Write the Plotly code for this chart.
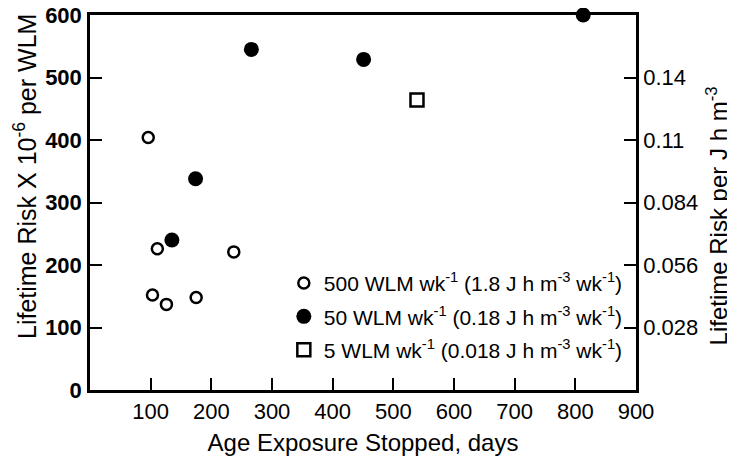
import plotly.graph_objects as go

# Data
open_x = [96, 103, 111, 126, 175, 237]
open_y = [404, 152, 226, 137, 148, 221]
filled_x = [135, 174, 266, 451, 813]
filled_y = [240, 338, 545, 529, 600]
square_x = [539]
square_y = [464]

x_tickvals = [100, 200, 300, 400, 500, 600, 700, 800, 900]
y_tickvals = [0, 100, 200, 300, 400, 500, 600]
right_tickvals = [100, 200, 300, 400, 500]
right_ticktext = ["0.028", "0.056", "0.084", "0.11", "0.14"]

names = [
    "500 WLM wk<sup>-1</sup> (1.8 J h m<sup>-3</sup> wk<sup>-1</sup>)",
    "50 WLM wk<sup>-1</sup> (0.18 J h m<sup>-3</sup> wk<sup>-1</sup>)",
    "5 WLM wk<sup>-1</sup> (0.018 J h m<sup>-3</sup> wk<sup>-1</sup>)",
]

FONT = "Liberation Sans, Arial, Helvetica, sans-serif"

fig = go.Figure()
fig.add_trace(go.Scatter(
    x=open_x, y=open_y, mode="markers", name=names[0], legendgroup="a",
    marker=dict(symbol="circle-open", size=11, color="black", line=dict(width=2.5, color="black")),
    cliponaxis=False))
fig.add_trace(go.Scatter(
    x=filled_x, y=filled_y, mode="markers", name=names[1], legendgroup="b",
    marker=dict(symbol="circle", size=15, color="black"),
    cliponaxis=False))
fig.add_trace(go.Scatter(
    x=square_x, y=square_y, mode="markers", name=names[2], legendgroup="c",
    marker=dict(symbol="square-open", size=13, color="black", line=dict(width=2.5, color="black")),
    cliponaxis=False))
# invisible trace to drive right axis
fig.add_trace(go.Scatter(x=[None], y=[None], yaxis="y2", showlegend=False, hoverinfo="skip"))

# page body has an 8px margin: figure is sized/placed to compensate
fig.update_layout(
    width=727, height=451,
    margin=dict(l=82, r=99, t=7, b=69, autoexpand=False),
    paper_bgcolor="white", plot_bgcolor="white",
    font=dict(family=FONT, color="black", size=21),
    showlegend=True,
    legend=dict(x=0.355, y=0.339, xanchor="left", yanchor="top",
                bgcolor="rgba(0,0,0,0)", font=dict(size=21, family=FONT, color="black"),
                tracegroupgap=3, itemwidth=30),
    xaxis=dict(range=[0, 900], tickvals=x_tickvals, showgrid=False, zeroline=False,
               showline=True, linecolor="black", linewidth=2.5, mirror=True, automargin=False,
               ticks="inside", ticklen=12, tickwidth=2, tickcolor="black",
               ticklabeloverflow="allow",
               tickfont=dict(size=22, family=FONT),
               title=dict(text="Age Exposure Stopped, days", font=dict(size=24, family=FONT), standoff=12)),
    yaxis=dict(range=[0, 600], tickvals=y_tickvals, showgrid=False, zeroline=False,
               showline=True, linecolor="black", linewidth=2.5, automargin=False,
               ticks="inside", ticklen=12, tickwidth=2, tickcolor="black",
               ticklabeloverflow="allow",
               tickfont=dict(size=22, family=FONT, weight="bold"), ticklabelstandoff=1),
    yaxis2=dict(range=[0, 600], overlaying="y", side="right", tickvals=right_tickvals,
                ticktext=right_ticktext, showgrid=False, zeroline=False, automargin=False,
                showline=True, linecolor="black", linewidth=2.5,
                ticks="inside", ticklen=12, tickwidth=2, tickcolor="black",
                ticklabeloverflow="allow",
                tickfont=dict(size=22, family=FONT)),
    annotations=[
        dict(text="Lifetime Risk X 10<sup>-6</sup> per WLM", xref="paper", yref="paper",
             x=-0.119, y=0.568, textangle=-90, showarrow=False, xanchor="center", yanchor="middle",
             font=dict(size=25, family=FONT)),
        dict(text="Lifetime Risk per J h m<sup>-3</sup>", xref="paper", yref="paper",
             x=1.148, y=0.465, textangle=-90, showarrow=False, xanchor="center", yanchor="middle",
             font=dict(size=24, family=FONT)),
    ],
)

fig.write_html("out.html")
